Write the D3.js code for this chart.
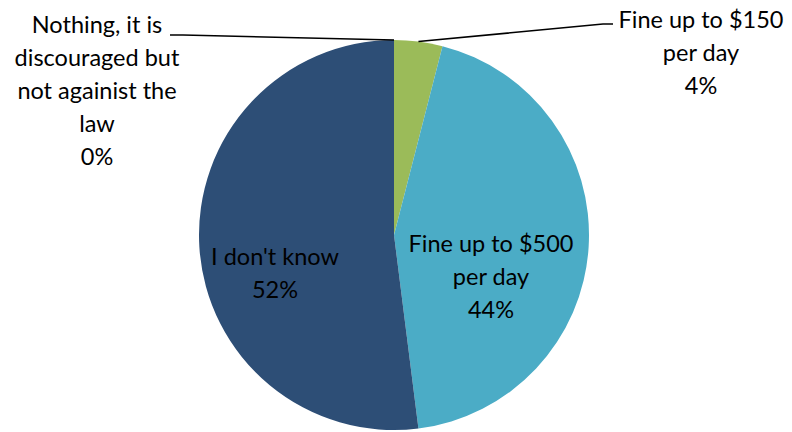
<!DOCTYPE html>
<html>
<head>
<meta charset="utf-8">
<script src="https://cdn.jsdelivr.net/npm/d3@7"></script>
<style>
  html, body { margin: 0; padding: 0; background: #fff; }
  svg { display: block; }
  text { font-family: Lato, "Open Sans", sans-serif; font-size: 23.5px; fill: #000; }
</style>
</head>
<body>
<svg id="chart" width="792" height="432"></svg>
<script>
// Responses, clockwise from 12 o'clock
const categories = [
  "Fine up to $150 per day",
  "Fine up to $500 per day",
  "I don't know",
  "Nothing, it is discouraged but not againist the law"
];
const values = [4, 44, 52, 0];
const colors = ["#9BBB59", "#4BACC6", "#2D4E76", "#7F7F7F"];

// Label lines and their anchor positions
const labelLines = [
  ["Fine up to $150", "per day", "4%"],
  ["Fine up to $500", "per day", "44%"],
  ["I don't know", "52%"],
  ["Nothing, it is", "discouraged but", "not againist the", "law", "0%"]
];
const labelPos = [
  { x: 701, y: 20, outside: true, elbow: [603, 24], tail: [613, 24] },
  { x: 491, y: 244 },
  { x: 275, y: 257 },
  { x: 97, y: 25, outside: true, elbow: [183, 35], tail: [170, 35] }
];

const cx = 394, cy = 235, r = 195, lineH = 33;
const svg = d3.select("#chart");
const g = svg.append("g").attr("transform", `translate(${cx},${cy})`);

const pie = d3.pie().sort(null).value(d => d)(values);
const arc = d3.arc().innerRadius(0).outerRadius(r);

g.selectAll("path.slice")
  .data(pie)
  .join("path")
  .attr("class", "slice")
  .attr("d", arc)
  .attr("fill", (d, i) => colors[i]);

// Leader lines for labels placed outside the pie
pie.forEach((d, i) => {
  const p = labelPos[i];
  if (!p.outside) return;
  const a = (d.startAngle + d.endAngle) / 2;
  const ex = cx + r * Math.sin(a), ey = cy - r * Math.cos(a);
  svg.append("polyline")
    .attr("points", [[ex, ey], p.elbow, p.tail].map(q => q.join(",")).join(" "))
    .attr("fill", "none")
    .attr("stroke", "#000")
    .attr("stroke-width", 1.6);
});

// Data labels
labelLines.forEach((lines, i) => {
  const p = labelPos[i];
  const t = svg.append("text")
    .attr("text-anchor", "middle");
  lines.forEach((s, k) => {
    t.append("tspan")
      .attr("x", p.x)
      .attr("y", p.y + k * lineH)
      .attr("dy", "0.35em")
      .text(s);
  });
});
</script>
</body>
</html>
